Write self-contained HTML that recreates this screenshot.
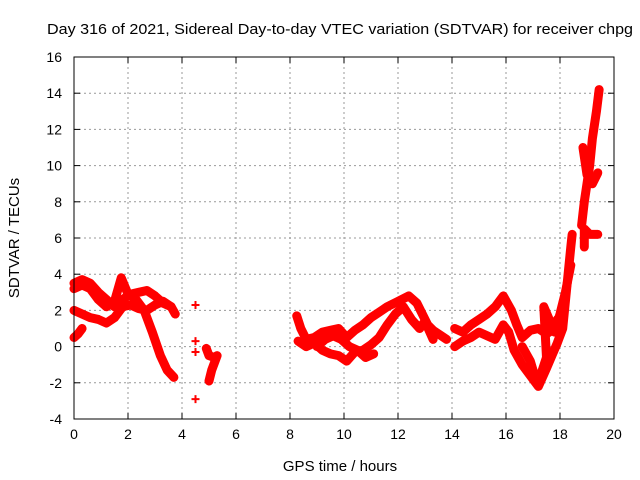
<!DOCTYPE html>
<html><head><meta charset="utf-8"><style>body{margin:0;background:#fff}svg{display:block;font-family:"Liberation Sans",sans-serif}</style></head>
<body>
<svg id="chart" width="640" height="480" viewBox="0 0 640 480" xmlns="http://www.w3.org/2000/svg">
<rect width="640" height="480" fill="#fff"/>
<text x="47" y="34" font-size="15" textLength="586" lengthAdjust="spacingAndGlyphs">Day 316 of 2021, Sidereal Day-to-day VTEC variation (SDTVAR) for receiver chpg</text>
<text x="340" y="471" font-size="15" text-anchor="middle">GPS time / hours</text>
<text transform="translate(19,238) rotate(-90)" font-size="15" text-anchor="middle">SDTVAR / TECUs</text>
<g id="grid"></g><g id="ticks"></g><g id="series"></g>
<rect x="74" y="57" width="540" height="362" fill="none" stroke="#000" stroke-width="1"/>
</svg>
<script>
const xTicks=[0,2,4,6,8,10,12,14,16,18,20];
const yTicks=[-4,-2,0,2,4,6,8,10,12,14,16];
const trackUpper=[[0,3.5],[0.3,3.7],[0.6,3.5],[0.9,3.0],[1.2,2.6],[1.5,2.2],[1.8,2.6],[2.1,2.9],[2.4,3.0],[2.7,3.1],[3.0,2.8],[3.3,2.4],[3.6,2.2],[3.75,1.8]];
const trackFall=[[0,3.2],[0.3,3.4],[0.6,3.2],[0.9,2.6],[1.2,2.2],[1.5,2.5],[1.75,3.8],[2.0,2.9],[2.3,2.6],[2.6,2.0],[2.9,0.8],[3.2,-0.5],[3.45,-1.3],[3.7,-1.7]];
const trackLow=[[0,2.0],[0.3,1.8],[0.6,1.6],[0.9,1.5],[1.2,1.3],[1.5,1.6],[1.8,2.2],[2.1,2.3],[2.4,2.1],[2.7,2.0],[3.0,2.3],[3.3,2.5],[3.6,2.2]];
const trackStart=[[0,0.5],[0.15,0.7],[0.3,1.0]];
const isolated=[[4.5,2.3],[4.5,0.3],[4.5,-0.3],[4.5,-2.9]];
const trackDawn=[[4.9,-0.1],[5.0,-0.5],[5.2,-0.6],[5.3,-0.5],[5.1,-1.3],[5.0,-1.9]];
const trackMidA=[[8.25,1.7],[8.4,1.0],[8.6,0.4],[8.9,0.5],[9.2,0.8],[9.5,0.9],[9.8,1.0],[10.1,0.5],[10.4,0.9],[10.7,1.2],[11.0,1.6],[11.3,1.9],[11.6,2.2],[12.0,2.5],[12.4,2.8],[12.7,2.4],[12.9,1.8],[13.1,1.2],[13.3,0.9],[13.6,0.6],[13.8,0.4]];
const trackMidB=[[8.3,0.3],[8.6,0.0],[8.9,0.2],[9.2,-0.2],[9.5,-0.4],[9.8,-0.5],[10.1,-0.8],[10.4,-0.3],[10.7,-0.2],[11.0,0.1],[11.3,0.5],[11.6,1.2],[11.9,1.8],[12.2,2.2],[12.5,1.5],[12.8,1.0],[13.0,1.4],[13.3,0.4]];
const trackMidC=[[9.0,0.0],[9.3,0.4],[9.6,0.6],[9.9,0.4],[10.2,0.0],[10.5,-0.2],[10.8,-0.6],[11.1,-0.4]];
const trackPmA=[[14.1,1.0],[14.4,0.8],[14.7,1.2],[15.0,1.5],[15.3,1.8],[15.6,2.2],[15.9,2.8],[16.2,2.0],[16.4,1.2],[16.6,0.5],[16.9,0.9],[17.2,1.0],[17.5,0.7],[17.7,0.9],[17.9,1.5]];
const trackPmB=[[14.1,0.0],[14.4,0.3],[14.7,0.5],[15.0,0.8],[15.3,0.6],[15.6,0.4],[15.9,1.2],[16.1,0.8],[16.3,-0.2],[16.6,-1.0],[16.9,-1.6],[17.2,-2.2],[17.5,-1.2],[17.7,-0.5],[17.9,0.2],[18.1,1.0],[18.2,2.5],[18.3,4.0],[18.4,5.5],[18.45,6.2]];
const trackPmC=[[16.6,0.0],[16.9,-0.8],[17.1,-1.8],[17.3,-1.5],[17.5,-0.6],[17.4,2.2],[17.6,1.5],[17.8,0.8],[18.0,1.8],[18.2,3.0],[18.4,4.5]];
const trackNightA=[[18.8,6.7],[18.9,8.0],[19.0,9.0],[19.1,10.0],[19.2,11.5],[19.35,13.0],[19.45,14.2]];
const trackNightB=[[18.85,11.0],[19.0,9.5],[19.2,9.0],[19.4,9.6]];
const trackNightC=[[18.9,5.5],[18.9,6.5],[19.1,6.2],[19.4,6.2]];
const allTracks=[trackUpper,trackFall,trackLow,trackStart,isolated,trackDawn,trackMidA,trackMidB,trackMidC,trackPmA,trackPmB,trackPmC,trackNightA,trackNightB,trackNightC];
const trackNames=['upper','fall','low','start','isolated','dawn','mid-a','mid-b','mid-c','pm-a','pm-b','pm-c','night-a','night-b','night-c'];
const NS='http://www.w3.org/2000/svg';
const X0=74,X1=614,Y0=419,Y1=57;
function sx(v){return X0+(v-0)/(20-0)*(X1-X0);}
function sy(v){return Y0-(v+4)/(16+4)*(Y0-Y1);}
function mk(t,a,p){const e=document.createElementNS(NS,t);for(const k in a)e.setAttribute(k,a[k]);p.appendChild(e);return e;}
const grid=document.getElementById('grid'),ticks=document.getElementById('ticks'),series=document.getElementById('series');
xTicks.forEach(v=>{const x=sx(v);
 if(v>0&&v<20){const g=mk('line',{x1:x,x2:x,y1:Y1,y2:Y0,stroke:'#999','stroke-dasharray':'2,3'},grid);
 
 }
 mk('line',{x1:x,x2:x,y1:Y0,y2:Y0-6,stroke:'#000'},ticks);
 mk('line',{x1:x,x2:x,y1:Y1,y2:Y1+6,stroke:'#000'},ticks);
 const t=mk('text',{x:x,y:Y0+20,'font-size':14,'text-anchor':'middle'},ticks);t.textContent=v;
 
 });
yTicks.forEach(v=>{const y=sy(v);
 if(v>-4&&v<16){const g=mk('line',{x1:X0,x2:X1,y1:y,y2:y,stroke:'#999','stroke-dasharray':'2,3'},grid);
 
 }
 mk('line',{x1:X0,x2:X0+6,y1:y,y2:y,stroke:'#000'},ticks);
 mk('line',{x1:X1,x2:X1-6,y1:y,y2:y,stroke:'#000'},ticks);
 const t=mk('text',{x:X0-12,y:y+5,'font-size':14,'text-anchor':'end'},ticks);t.textContent=v;
 
 });
allTracks.forEach((tr,i)=>{
 const g=mk('g',{},series);
 
 
 if(tr!==isolated){mk('polyline',{points:tr.map(p=>sx(p[0])+','+sy(p[1])).join(' '),fill:'none',stroke:'#f00','stroke-width':9,'stroke-linejoin':'round','stroke-linecap':'round'},g);}
 tr.forEach(p=>{const x=sx(p[0]),y=sy(p[1]);
  const m=mk('path',{d:`M${x-4},${y}H${x+4}M${x},${y-4}V${y+4}`,stroke:'#f00','stroke-width':2},g);
  
  });
});
</script>
</body></html>
